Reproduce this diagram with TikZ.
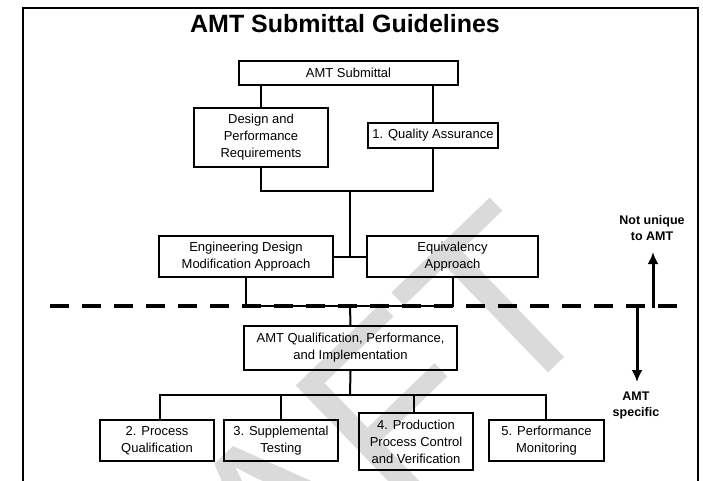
\documentclass[tikz,border=0pt]{standalone}
\usepackage{fontspec}
\setmainfont{Liberation Sans}
\usetikzlibrary{arrows.meta}
\definecolor{wmgray}{HTML}{DADADA}
\tikzset{
  box/.style={draw, line width=2pt, inner sep=0pt, align=center, font=\fontsize{13}{17}\selectfont},
  conn/.style={line width=2pt},
  side/.style={align=center, font=\bfseries\fontsize{12.5}{16}\selectfont},
  bigarrow/.style={line width=3pt, -{Latex[length=12pt,width=11pt]}}
}
\begin{document}
\begin{tikzpicture}[x=1pt,y=-1pt]
\useasboundingbox (0,0) rectangle (703,480);
\clip (0,0) rectangle (703,480);
% watermark
\node[text=wmgray, rotate=44, anchor=base east, inner sep=0pt, font=\fontsize{242}{242}\selectfont] (wm) at (610,314) {DRAFT};
% frame
\draw[line width=1.5pt] (23,8) rectangle (698,520);
% title
\node[anchor=base, font=\bfseries\fontsize{25}{25}\selectfont, inner sep=0pt] (title) at (345,32) {AMT Submittal Guidelines};
% boxes
\node[box, minimum width=219pt, minimum height=24pt] (sub) at (348.5,73) {AMT Submittal};
\node[box, minimum width=134pt, minimum height=59pt] (dpr) at (261,137.5) {Design and\\Performance\\Requirements};
\node[box, minimum width=130pt, minimum height=25pt] (qa) at (433,135.5) {1. Quality Assurance};
\node[box, minimum width=174pt, minimum height=41pt] (edma) at (246,256.5) {Engineering Design\\Modification Approach};
\node[box, minimum width=171pt, minimum height=41pt] (eqv) at (452.5,256.5) {Equivalency\\Approach};
\node[box, minimum width=213pt, minimum height=44pt] (qual) at (350.5,348) {AMT Qualification, Performance,\\and Implementation};
\node[box, minimum width=114pt, minimum height=41pt] (b2) at (157,440.5) {2. Process\\Qualification};
\node[box, minimum width=114pt, minimum height=41pt] (b3) at (281,440.5) {3. Supplemental\\Testing};
\node[box, minimum width=114pt, minimum height=57pt] (b4) at (416,441.5) {4. Production\\Process Control\\and Verification};
\node[box, minimum width=115pt, minimum height=41pt] (b5) at (546.5,440.5) {5. Performance\\Monitoring};
% coordinates
\coordinate (j1) at (350,191);
\coordinate (j2) at (350,306);
\coordinate (j3) at (350,395);
% connectors top
\draw[conn] (sub.south -| dpr.north) -- (dpr.north);
\draw[conn] (sub.south -| qa.north) -- (qa.north);
\draw[conn] (dpr.south) -- (dpr.south |- j1) -- (qa.south |- j1) -- (qa.south);
\draw[conn] (j1) -- (j1 |- edma.east);
\draw[conn] (edma.east) -- (eqv.west);
\draw[conn] (edma.south) -- (edma.south |- j2) -- (eqv.south |- j2) -- (eqv.south);
\draw[conn] (j2) -- (qual.north);
% dashed divider
\coordinate (dl) at (50,306);
\coordinate (dr) at (678,306);
\draw[line width=4.5pt, dash pattern=on 19pt off 13pt] (dl) -- (dr);
% connectors bottom
\draw[conn] (qual.south) -- (j3);
\draw[conn] (b2.north -| 160,0) -- (160,395) -- (546,395) -- (b5.north -| 546,0);
\draw[conn] (b3.north) -- (b3.north |- j3);
\draw[conn] (b4.north -| 414,0) -- (414,395);
% side labels and arrows
\node[side] (nu) at (652,228) {Not unique\\to AMT};
\node[side] (sp) at (636,405) {AMT\\specific};
\coordinate (upS) at (653,308);
\coordinate (upE) at (653,252);
\coordinate (dnS) at (637,306);
\coordinate (dnE) at (637,382);
\draw[bigarrow] (upS) -- (upE);
\draw[bigarrow] (dnS) -- (dnE);
\end{tikzpicture}
\end{document}
